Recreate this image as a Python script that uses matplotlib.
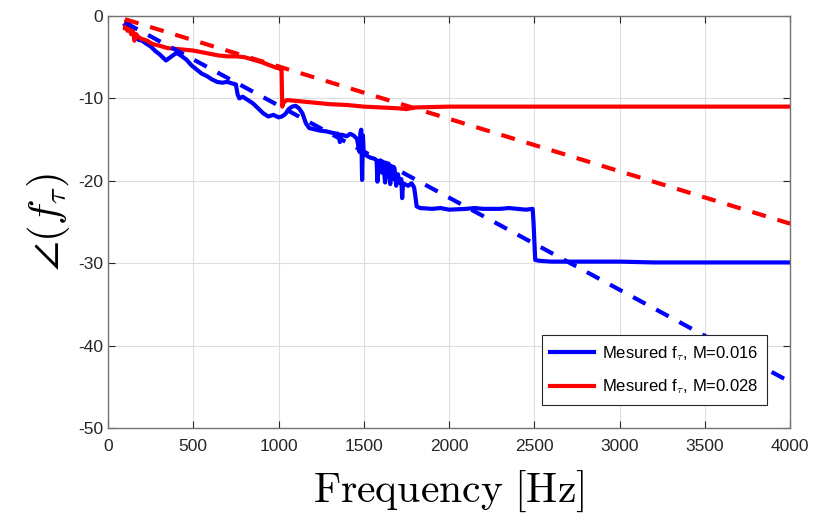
import numpy as np
import matplotlib.pyplot as plt

plt.rcParams['font.family'] = ['Liberation Sans', 'DejaVu Sans']
plt.rcParams['mathtext.fontset'] = 'cm'
plt.rcParams['axes.unicode_minus'] = False

# measured phase, M=0.016
blue_f = [100, 120, 140, 160, 180, 200, 220, 250, 280, 300, 320, 340, 360, 380, 400,
          420, 440, 460, 490, 520, 550, 580, 610, 640, 670, 700, 730, 750, 760, 770,
          790, 820, 850, 880, 910, 940, 970, 1000, 1020, 1040, 1060, 1080, 1100, 1120,
          1140, 1160, 1180, 1200, 1240, 1280, 1320, 1350, 1360, 1370, 1400, 1420, 1440,
          1460, 1475, 1480, 1485, 1490, 1495, 1500, 1510, 1520, 1540, 1560, 1575, 1580,
          1585, 1600, 1605, 1610, 1615, 1625, 1630, 1640, 1645, 1655, 1660, 1670, 1675,
          1680, 1690, 1700, 1710, 1720, 1725, 1730, 1740, 1760, 1780, 1795, 1800, 1810,
          1830, 1900, 1950, 2000, 2100, 2150, 2200, 2300, 2350, 2400, 2450, 2490, 2495,
          2505, 2530, 2600, 2800, 3000, 3200, 3500, 3800, 4000]
blue_phase = [-1.1, -1.6, -2.0, -2.6, -2.9, -3.0, -3.3, -3.7, -4.3, -4.6, -5.0, -5.4, -5.1,
              -4.8, -4.5, -4.7, -5.0, -5.3, -6.0, -6.5, -7.0, -7.3, -7.7, -8.0, -8.1, -8.0,
              -8.2, -8.3, -9.5, -10.0, -9.8, -10.2, -10.6, -11.2, -11.8, -12.2, -12.0,
              -12.3, -12.2, -11.9, -11.3, -11.0, -10.9, -11.2, -11.8, -13.0, -13.6, -13.7,
              -13.9, -14.0, -14.2, -14.3, -15.3, -14.4, -14.6, -14.3, -14.5, -14.9, -16.5,
              -14.2, -13.8, -19.9, -14.5, -16.9, -16.6, -17.0, -17.2, -17.3, -17.5, -20.1,
              -17.6, -17.6, -19.0, -17.8, -18.0, -20.2, -17.8, -19.5, -17.9, -20.4, -18.2,
              -19.8, -18.3, -18.5, -20.6, -19.2, -20.2, -19.8, -22.1, -20.3, -20.4, -20.6,
              -20.3, -20.8, -21.5, -23.1, -23.3, -23.4, -23.3, -23.5, -23.4, -23.3, -23.4,
              -23.4, -23.3, -23.4, -23.5, -23.4, -25.0, -29.6, -29.7, -29.8, -29.8, -29.8,
              -29.9, -29.9, -29.9, -29.9]

# measured phase, M=0.028
red_f = [100, 110, 115, 125, 135, 145, 155, 165, 180, 200, 230, 260, 300, 350, 400, 450,
         500, 550, 600, 650, 700, 750, 800, 850, 900, 950, 990, 1010, 1018, 1022, 1030,
         1050, 1100, 1200, 1300, 1400, 1500, 1600, 1700, 1750, 1800, 2000, 2500, 3000, 4000]
red_phase = [-1.5, -0.5, -1.8, -0.6, -2.2, -1.5, -3.0, -2.2, -2.6, -2.8, -3.0, -3.4, -3.6,
             -3.9, -4.0, -4.1, -4.2, -4.4, -4.6, -4.8, -4.9, -4.9, -5.0, -5.3, -5.6, -6.0,
             -6.3, -6.4, -6.6, -11.0, -10.5, -10.2, -10.3, -10.5, -10.7, -10.8, -11.0,
             -11.1, -11.2, -11.3, -11.1, -11.0, -11.0, -11.0, -11.0]

# linear phase fits
fit_f = [100, 4000]
blue_fit = [-0.8, -44.4]
red_fit = [-0.4, -25.2]

fig = plt.figure(figsize=(8.24, 5.14), dpi=100)
ax = fig.add_axes([0.131, 0.167, 0.828, 0.802])

ax.plot(blue_f, blue_phase, color=(0, 0, 1), lw=3, label=r'Mesured f$_{\tau}$, M=0.016')
ax.plot(red_f, red_phase, color=(1, 0, 0), lw=3, label=r'Mesured f$_{\tau}$, M=0.028')
l1, = ax.plot(fit_f, blue_fit, color=(0, 0, 1), lw=3, ls='--')
l2, = ax.plot(fit_f, red_fit, color=(1, 0, 0), lw=3, ls='--')
for l in (l1, l2):
    l.set_dashes((3.4, 2.9))
    l.set_dash_capstyle('butt')

ax.set_xlim(0, 4000)
ax.set_ylim(-50, 0)
ax.set_xticks(np.arange(0, 4001, 500))
ax.set_yticks(np.arange(-50, 1, 10))
ax.grid(True, color='0.87', lw=0.8)
ax.set_axisbelow(True)
ax.tick_params(direction='in', top=True, right=True, labelsize=12.5,
               colors='0.15', length=5)
ax.tick_params(axis='x', pad=8)
for s in ax.spines.values():
    s.set_color('0.45')
    s.set_linewidth(1)

ax.set_xlabel(r'$\mathrm{Frequency}\ [\mathrm{Hz}]$', fontsize=30, labelpad=10)
ax.set_ylabel(r'$\angle(f_\tau)$', fontsize=31, labelpad=4)

leg = ax.legend(loc='lower right', fontsize=12, handlelength=2.6, borderaxespad=1.4,
                fancybox=False, framealpha=1, edgecolor='0.15', borderpad=0.5,
                labelspacing=0.9, handletextpad=0.5)
leg.get_frame().set_linewidth(0.8)

fig.savefig('out.png', dpi=100)
